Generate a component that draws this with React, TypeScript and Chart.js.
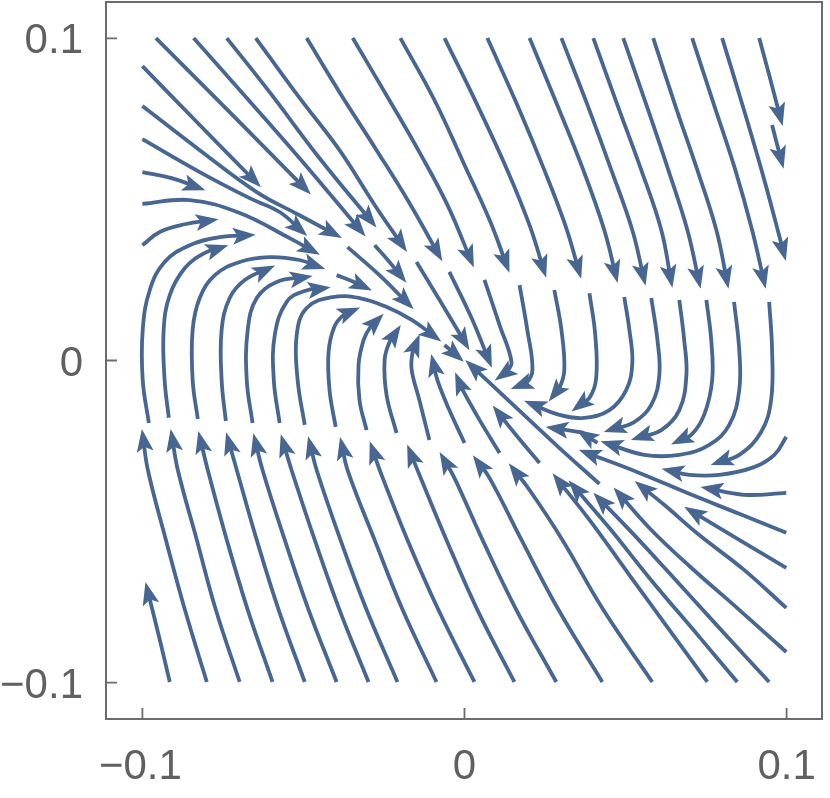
import React, { useEffect, useRef } from "react";
import { Chart, registerables } from "chart.js";

Chart.register(...registerables);

type Line = number[][];

// Streamlines, each is a list of [x, y] points in flow order (arrow at the last point)
const topLeftConverging: Line[] = [
  [[-0.100, 0.0914], [-0.0822, 0.0731], [-0.0645, 0.0551]],
  [[-0.0958, 0.1001], [-0.0729, 0.0771], [-0.0490, 0.0529]],
  [[-0.0841, 0.1001], [-0.0698, 0.0840], [-0.0512, 0.0628], [-0.0319, 0.0399]],
  [[-0.0738, 0.1001], [-0.0605, 0.0833], [-0.0450, 0.0628], [-0.0285, 0.0427]],
  [[-0.100, 0.0790], [-0.0822, 0.0653], [-0.0645, 0.0523], [-0.0512, 0.0451], [-0.0397, 0.0389]],
  [[-0.100, 0.0687], [-0.0822, 0.0585], [-0.0667, 0.0504], [-0.0574, 0.0461], [-0.0502, 0.0399]],
  [[-0.100, 0.0585], [-0.0909, 0.0566], [-0.0822, 0.0535]],
  [[-0.100, 0.0486], [-0.0853, 0.0498], [-0.0698, 0.0458], [-0.0543, 0.0380], [-0.0465, 0.0337]],
  [[-0.100, 0.0358], [-0.0946, 0.0399], [-0.0868, 0.0423], [-0.0782, 0.0436]],
];

const fromTopEdge: Line[] = [
  [[-0.0648, 0.1001], [-0.0512, 0.0815], [-0.0388, 0.0653], [-0.0279, 0.0483], [-0.0189, 0.0352]],
  [[-0.0490, 0.1001], [-0.0388, 0.0833], [-0.0273, 0.0653], [-0.0171, 0.0489], [-0.0078, 0.0324]],
  [[-0.0347, 0.1001], [-0.0233, 0.0808], [-0.0140, 0.0647], [-0.0053, 0.0483], [0.0022, 0.0306]],
  [[-0.0199, 0.1001], [-0.0093, 0.0808], [0.0000, 0.0607], [0.0078, 0.0436], [0.0133, 0.0290]],
  [[-0.0062, 0.1001], [0.0040, 0.0793], [0.0133, 0.0591], [0.0202, 0.0420], [0.0248, 0.0275]],
  [[0.0071, 0.1001], [0.0164, 0.0793], [0.0248, 0.0591], [0.0313, 0.0420], [0.0357, 0.0272]],
  [[0.0202, 0.1001], [0.0288, 0.0793], [0.0369, 0.0591], [0.0434, 0.0405], [0.0471, 0.0259]],
  [[0.0301, 0.1001], [0.0382, 0.0793], [0.0456, 0.0591], [0.0521, 0.0405], [0.0558, 0.0250]],
  [[0.0400, 0.1001], [0.0475, 0.0793], [0.0549, 0.0591], [0.0611, 0.0405], [0.0642, 0.0244]],
  [[0.0493, 0.1001], [0.0565, 0.0793], [0.0633, 0.0591], [0.0692, 0.0405], [0.0729, 0.0241]],
  [[0.0586, 0.1001], [0.0654, 0.0793], [0.0723, 0.0591], [0.0782, 0.0405], [0.0816, 0.0241]],
  [[0.0707, 0.1001], [0.0775, 0.0793], [0.0841, 0.0591], [0.0893, 0.0405], [0.0931, 0.0241]],
  [[0.0800, 0.1001], [0.0868, 0.0777], [0.0931, 0.0560], [0.0993, 0.0327]],
  [[0.0915, 0.1001], [0.0946, 0.0886], [0.0983, 0.0746]],
  [[0.0955, 0.0731], [0.0971, 0.0669], [0.0986, 0.0613]],
];

const leftArches: Line[] = [
  [[-0.0980, -0.0194], [-0.0999, -0.0061], [-0.0999, 0.0095], [-0.0977, 0.0219], [-0.0931, 0.0306], [-0.0853, 0.0358], [-0.0760, 0.0383], [-0.0667, 0.0389]],
  [[-0.0918, -0.0178], [-0.0931, -0.0061], [-0.0934, 0.0095], [-0.0915, 0.0203], [-0.0868, 0.0287], [-0.0806, 0.0334], [-0.0751, 0.0352]],
  [[-0.0828, -0.0182], [-0.0844, -0.0061], [-0.0844, 0.0095], [-0.0822, 0.0194], [-0.0775, 0.0265], [-0.0698, 0.0306], [-0.0605, 0.0321], [-0.0512, 0.0312], [-0.0450, 0.0290]],
  [[-0.0741, -0.0188], [-0.0754, -0.0061], [-0.0754, 0.0095], [-0.0729, 0.0194], [-0.0682, 0.0250], [-0.0605, 0.0287]],
  [[-0.0658, -0.0194], [-0.0676, -0.0061], [-0.0673, 0.0095], [-0.0645, 0.0194], [-0.0583, 0.0244], [-0.0490, 0.0259]],
  [[-0.0574, -0.0194], [-0.0592, -0.0061], [-0.0589, 0.0079], [-0.0552, 0.0182], [-0.0496, 0.0216], [-0.0434, 0.0225]],
  [[-0.0496, -0.0200], [-0.0518, -0.0061], [-0.0521, 0.0079], [-0.0490, 0.0163], [-0.0409, 0.0197], [-0.0326, 0.0194], [-0.0248, 0.0169], [-0.0164, 0.0126], [-0.0087, 0.0070]],
  [[-0.0400, -0.0206], [-0.0419, -0.0092], [-0.0422, 0.0026], [-0.0403, 0.0107], [-0.0372, 0.0144], [-0.0341, 0.0157]],
  [[-0.0304, -0.0216], [-0.0326, -0.0123], [-0.0329, -0.0014], [-0.0313, 0.0064], [-0.0292, 0.0104], [-0.0264, 0.0132]],
];

const centerUpper: Line[] = [
  [[0.0279, 0.0219], [0.0301, 0.0095], [0.0310, -0.0029], [0.0295, -0.0085], [0.0273, -0.0113]],
  [[0.0388, 0.0209], [0.0406, 0.0079], [0.0409, -0.0054], [0.0388, -0.0116], [0.0347, -0.0147]],
  [[0.0171, 0.0234], [0.0195, 0.0095], [0.0211, -0.0029], [0.0192, -0.0070], [0.0161, -0.0082]],
  [[0.0062, 0.0250], [0.0109, 0.0110], [0.0146, -0.0005], [0.0130, -0.0036], [0.0109, -0.0051]],
  [[-0.0047, 0.0275], [0.0022, 0.0132], [0.0078, -0.0005]],
  [[-0.0149, 0.0306], [-0.0068, 0.0172], [0.0006, 0.0048]],
  [[-0.0279, 0.0358], [-0.0233, 0.0306], [-0.0192, 0.0256]],
  [[-0.0363, 0.0352], [-0.0264, 0.0265], [-0.0171, 0.0172]],
  [[-0.0062, 0.0048], [-0.0016, 0.0008]],
  [[-0.0397, 0.0265], [-0.0350, 0.0247], [-0.0304, 0.0225]],
];

const centerLower: Line[] = [
  [[-0.0211, -0.0225], [-0.0242, -0.0107], [-0.0248, 0.0002], [-0.0233, 0.0057], [-0.0208, 0.0095]],
  [[-0.0109, -0.0247], [-0.0140, -0.0123], [-0.0164, -0.0029], [-0.0161, 0.0026], [-0.0146, 0.0064]],
  [[0.0000, -0.0256], [-0.0047, -0.0154], [-0.0084, -0.0061], [-0.0099, 0.0002]],
  [[0.0109, -0.0287], [0.0047, -0.0185], [-0.0009, -0.0085], [-0.0022, -0.0054]],
  [[0.0233, -0.0318], [0.0155, -0.0225], [0.0099, -0.0154]],
  [[0.0372, -0.0225], [0.0319, -0.0216], [0.0270, -0.0209]],
  [[0.0413, -0.0256], [0.0363, -0.0225]],
  [[0.0419, -0.0383], [0.0295, -0.0272], [0.0202, -0.0185], [0.0109, -0.0098], [0.0016, -0.0011]],
];

const rightArches: Line[] = [
  [[0.0496, 0.0197], [0.0512, 0.0095], [0.0521, -0.0008], [0.0502, -0.0092], [0.0450, -0.0154], [0.0372, -0.0178], [0.0295, -0.0169], [0.0202, -0.0132]],
  [[0.0580, 0.0194], [0.0599, 0.0064], [0.0605, -0.0045], [0.0580, -0.0138], [0.0527, -0.0191], [0.0450, -0.0216]],
  [[0.0667, 0.0188], [0.0682, 0.0064], [0.0689, -0.0045], [0.0667, -0.0154], [0.0611, -0.0216], [0.0534, -0.0241]],
  [[0.0751, 0.0188], [0.0766, 0.0064], [0.0769, -0.0061], [0.0744, -0.0169], [0.0704, -0.0231], [0.0658, -0.0253]],
  [[0.0837, 0.0182], [0.0853, 0.0033], [0.0853, -0.0092], [0.0822, -0.0200], [0.0760, -0.0262], [0.0667, -0.0293], [0.0558, -0.0293], [0.0440, -0.0256]],
  [[0.0946, 0.0182], [0.0955, 0.0033], [0.0952, -0.0123], [0.0921, -0.0222], [0.0853, -0.0293], [0.0782, -0.0318]],
  [[0.0999, -0.0237], [0.0962, -0.0293], [0.0899, -0.0331], [0.0791, -0.0355], [0.0698, -0.0355], [0.0630, -0.0340]],
  [[0.0999, -0.0411], [0.0868, -0.0417], [0.0751, -0.0396]],
];

const fromBottomEdge: Line[] = [
  [[-0.0915, -0.0998], [-0.0946, -0.0867], [-0.0986, -0.0706]],
  [[-0.0800, -0.0998], [-0.0868, -0.0774], [-0.0927, -0.0557], [-0.0983, -0.0340], [-0.0999, -0.0231]],
  [[-0.0698, -0.0998], [-0.0772, -0.0774], [-0.0831, -0.0557], [-0.0890, -0.0340], [-0.0909, -0.0231]],
  [[-0.0596, -0.0998], [-0.0673, -0.0774], [-0.0738, -0.0557], [-0.0797, -0.0340], [-0.0822, -0.0237]],
  [[-0.0496, -0.0998], [-0.0577, -0.0774], [-0.0645, -0.0557], [-0.0707, -0.0340], [-0.0735, -0.0241]],
  [[-0.0397, -0.0998], [-0.0484, -0.0774], [-0.0558, -0.0557], [-0.0627, -0.0340], [-0.0651, -0.0244]],
  [[-0.0298, -0.0998], [-0.0388, -0.0774], [-0.0465, -0.0557], [-0.0537, -0.0340], [-0.0565, -0.0247]],
  [[-0.0208, -0.0998], [-0.0304, -0.0774], [-0.0385, -0.0557], [-0.0459, -0.0340], [-0.0481, -0.0253]],
  [[-0.0087, -0.0998], [-0.0192, -0.0774], [-0.0279, -0.0557], [-0.0363, -0.0340], [-0.0382, -0.0256]],
  [[0.0031, -0.0998], [-0.0081, -0.0774], [-0.0177, -0.0557], [-0.0261, -0.0346], [-0.0288, -0.0268]],
  [[0.0155, -0.0998], [0.0040, -0.0774], [-0.0056, -0.0557], [-0.0140, -0.0355], [-0.0171, -0.0278]],
  [[0.0285, -0.0998], [0.0161, -0.0774], [0.0056, -0.0557], [-0.0031, -0.0365], [-0.0068, -0.0300]],
  [[0.0428, -0.0998], [0.0292, -0.0774], [0.0177, -0.0557], [0.0078, -0.0365], [0.0037, -0.0309]],
  [[0.0583, -0.0998], [0.0431, -0.0774], [0.0304, -0.0557], [0.0202, -0.0402], [0.0149, -0.0334]],
];

const lowerRightConverging: Line[] = [
  [[0.0999, -0.0535], [0.0853, -0.0476], [0.0698, -0.0414], [0.0543, -0.0349], [0.0372, -0.0284]],
  [[0.0999, -0.0644], [0.0853, -0.0557], [0.0698, -0.0464]],
  [[0.0999, -0.0768], [0.0868, -0.0650], [0.0729, -0.0542], [0.0620, -0.0448], [0.0543, -0.0386]],
  [[0.0999, -0.0905], [0.0853, -0.0774], [0.0698, -0.0638], [0.0574, -0.0520], [0.0475, -0.0408]],
  [[0.0946, -0.0998], [0.0791, -0.0830], [0.0636, -0.0660], [0.0512, -0.0526], [0.0413, -0.0424]],
  [[0.0847, -0.0998], [0.0729, -0.0858], [0.0574, -0.0675], [0.0450, -0.0520], [0.0335, -0.0386]],
  [[0.0754, -0.0998], [0.0636, -0.0836], [0.0512, -0.0666], [0.0388, -0.0495], [0.0285, -0.0365]],
];

const xTicks = [-0.1, 0, 0.1];
const yTicks = [-0.1, 0, 0.1];
const xTickLabels = ["\u22120.1", "0", "0.1"];
const yTickLabels = ["\u22120.1", "0", "0.1"];
const xRange = [-0.1113, 0.111];
const yRange = [-0.1113, 0.1113];

const STREAM_COLOR = "#476792";
const FRAME_COLOR = "#6c6c6c";
const LABEL_COLOR = "#606060";

const allLines: Line[] = [
  ...topLeftConverging,
  ...fromTopEdge,
  ...leftArches,
  ...centerUpper,
  ...centerLower,
  ...rightArches,
  ...fromBottomEdge,
  ...lowerRightConverging,
];

const arrowPlugin = {
  id: "streamArrows",
  afterDatasetsDraw(chart: any) {
    const ctx = chart.ctx as CanvasRenderingContext2D;
    ctx.save();
    ctx.fillStyle = STREAM_COLOR;
    chart.data.datasets.forEach((_ds: any, i: number) => {
      const pts = chart.getDatasetMeta(i).data;
      const n = pts.length;
      if (n < 2) return;
      const a = pts[n - 2];
      const b = pts[n - 1];
      const ang = Math.atan2(b.y - a.y, b.x - a.x);
      const L = 23;
      const W = 8.5;
      const notch = 5;
      const ext = 6;
      ctx.save();
      ctx.translate(b.x, b.y);
      ctx.rotate(ang);
      ctx.beginPath();
      ctx.moveTo(ext, 0);
      ctx.lineTo(ext - L, -W);
      ctx.lineTo(ext - L + notch, 0);
      ctx.lineTo(ext - L, W);
      ctx.closePath();
      ctx.fill();
      ctx.restore();
    });
    ctx.restore();
  },
};

const framePlugin = {
  id: "frameAndTicks",
  afterDraw(chart: any) {
    const ctx = chart.ctx as CanvasRenderingContext2D;
    const ca = chart.chartArea;
    const xs = chart.scales.x;
    const ys = chart.scales.y;
    ctx.save();
    ctx.strokeStyle = FRAME_COLOR;
    ctx.lineWidth = 2;
    ctx.strokeRect(ca.left, ca.top, ca.right - ca.left, ca.bottom - ca.top);
    ctx.lineWidth = 1.8;
    ctx.beginPath();
    xTicks.forEach((v) => {
      const px = xs.getPixelForValue(v);
      ctx.moveTo(px, ca.bottom);
      ctx.lineTo(px, ca.bottom - 11);
    });
    yTicks.forEach((v) => {
      const py = ys.getPixelForValue(v);
      ctx.moveTo(ca.left, py);
      ctx.lineTo(ca.left + 11, py);
    });
    ctx.stroke();

    ctx.fillStyle = LABEL_COLOR;
    ctx.font = '42px "Liberation Sans", Arial, sans-serif';
    ctx.textBaseline = "alphabetic";
    ctx.textAlign = "center";
    xTicks.forEach((v, i) => {
      const px = xs.getPixelForValue(v);
      ctx.fillText(xTickLabels[i], px - (v < 0 ? 2 : 0), ca.bottom + 60);
    });
    ctx.textAlign = "right";
    yTicks.forEach((v, i) => {
      const py = ys.getPixelForValue(v);
      ctx.fillText(yTickLabels[i], ca.left - 23, py + 15);
    });
    ctx.restore();
  },
};

export default function App() {
  const canvasRef = useRef<HTMLCanvasElement | null>(null);

  useEffect(() => {
    if (!canvasRef.current) return;
    const chart = new Chart(canvasRef.current, {
      type: "scatter",
      data: {
        datasets: allLines.map((line) => ({
          data: line.map(([x, y]) => ({ x, y })),
          showLine: true,
          borderColor: STREAM_COLOR,
          backgroundColor: STREAM_COLOR,
          borderWidth: 3.8,
          pointRadius: 0,
          pointHoverRadius: 0,
          tension: 0.4,
          fill: false,
          borderCapStyle: "butt",
          borderJoinStyle: "round",
        })),
      },
      options: {
        animation: false,
        responsive: false,
        events: [],
        layout: { padding: { left: 106, right: 8, top: 2, bottom: 79 } },
        plugins: {
          legend: { display: false },
          tooltip: { enabled: false },
          title: { display: false },
        },
        scales: {
          x: { type: "linear", min: xRange[0], max: xRange[1], display: false },
          y: { type: "linear", min: yRange[0], max: yRange[1], display: false },
        },
      },
      plugins: [arrowPlugin, framePlugin],
    } as any);
    return () => chart.destroy();
  }, []);

  return (
    <div style={{ position: "fixed", left: 0, top: 0, width: 830, height: 798, background: "#fff" }}>
      <canvas ref={canvasRef} width={830} height={798} style={{ display: "block" }} />
    </div>
  );
}
